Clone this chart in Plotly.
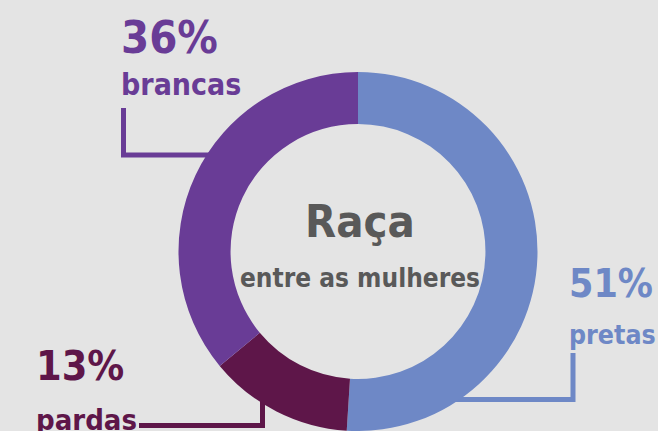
import plotly.graph_objects as go

W, H = 658, 431

categories = ["pretas", "pardas", "brancas"]
values = [51, 13, 36]
pct_labels = ["51%", "13%", "36%"]
colors = ["#6e88c6", "#5e1649", "#693c96"]

BG = "#e4e4e4"
FONT = "DejaVu Sans Condensed, DejaVu Sans, sans-serif"

def px(x):
    return x / W

def py(y):
    return 1 - y / H

fig = go.Figure(go.Pie(
    labels=categories,
    values=values,
    hole=0.71,
    sort=False,
    direction="clockwise",
    rotation=0,
    textinfo="none",
    hoverinfo="label+percent",
    marker=dict(colors=colors, line=dict(width=0)),
    domain=dict(x=[px(177), px(539)], y=[0, py(72)]),
    showlegend=False,
))

def path(points):
    return "M " + " L ".join(f"{px(x):.5f},{py(y):.5f}" for x, y in points)

shapes = [
    dict(type="path", path=path([(123.5, 108), (123.5, 155), (215, 155)]),
         line=dict(color=colors[2], width=5), xref="paper", yref="paper", layer="below"),
    dict(type="path", path=path([(573, 353), (573, 399.5), (455, 399.5)]),
         line=dict(color=colors[0], width=5), xref="paper", yref="paper", layer="below"),
    dict(type="path", path=path([(139, 425.5), (262.5, 425.5), (262.5, 398)]),
         line=dict(color=colors[1], width=5), xref="paper", yref="paper", layer="below"),
]

def ann(text, x, y, size, color, xanchor="left"):
    return dict(text=text, x=px(x), y=py(y), xref="paper", yref="paper",
                xanchor=xanchor, yanchor="middle", showarrow=False,
                font=dict(family=FONT, size=size, color=color, weight="bold"))

annotations = [
    ann(pct_labels[2], 119, 38, 45, colors[2]),
    ann(categories[2], 119, 84, 30, colors[2]),
    ann(pct_labels[0], 567, 283, 39, colors[0]),
    ann(categories[0], 567, 334, 26.5, colors[0]),
    ann(pct_labels[1], 34, 366, 41, colors[1]),
    ann(categories[1], 34, 420, 29, colors[1]),
    ann("Raça", 360, 222, 45, "#595959", "center"),
    ann("entre as mulheres", 360, 278, 26, "#595959", "center"),
]

fig.update_layout(
    width=W, height=H,
    margin=dict(l=0, r=0, t=0, b=0),
    paper_bgcolor=BG, plot_bgcolor=BG,
    shapes=shapes, annotations=annotations,
)

fig.write_html(
    "out.html",
    config={"displayModeBar": False},
    post_script="document.body.style.margin='0';document.body.style.overflow='hidden';",
)
